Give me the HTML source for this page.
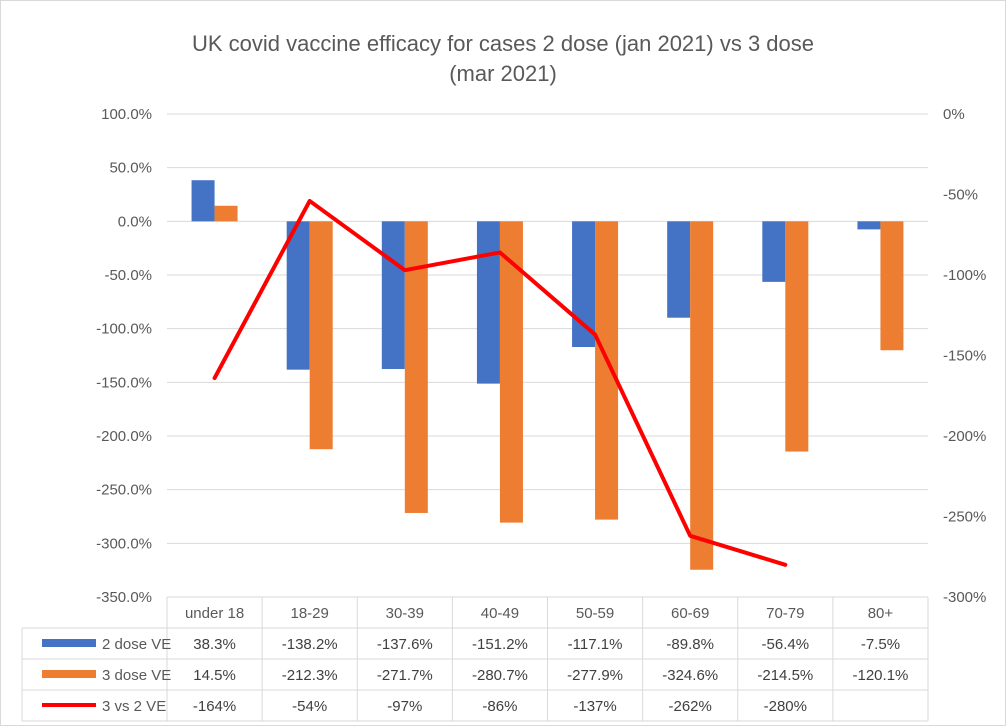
<!DOCTYPE html>
<html><head><meta charset="utf-8"><style>
body{margin:0;background:#fff;}
svg{display:block;font-family:"Liberation Sans",Arial,sans-serif;}
</style></head><body>
<svg id="c" width="1006" height="726">
<rect x="0.5" y="0.5" width="1005" height="725" fill="#fff" stroke="#d9d9d9"/>
<text x="503" y="51" text-anchor="middle" font-size="22" fill="#595959">UK covid vaccine efficacy for cases 2 dose (jan 2021) vs 3 dose</text>
<text x="503" y="81" text-anchor="middle" font-size="22" fill="#595959">(mar 2021)</text>
<g id="g"></g>
</svg>
<script>
const categories=["under 18","18-29","30-39","40-49","50-59","60-69","70-79","80+"];
const dose2=[38.3,-138.2,-137.6,-151.2,-117.1,-89.8,-56.4,-7.5];
const dose3=[14.5,-212.3,-271.7,-280.7,-277.9,-324.6,-214.5,-120.1];
const ratio=[-164,-54,-97,-86,-137,-262,-280,null];
const leftTicks=[100,50,0,-50,-100,-150,-200,-250,-300,-350];
const rightTicks=[0,-50,-100,-150,-200,-250,-300];
const ns="http://www.w3.org/2000/svg";
const g=document.getElementById("g");
const X0=167,X1=928,YT=114,YB=597;
const cw=(X1-X0)/categories.length;
const yL=v=>YT+(100-v)/450*(YB-YT);
const yR=v=>YT+(0-v)/300*(YB-YT);
const cx=i=>X0+cw*(i+0.5);
function el(t,a,txt){const e=document.createElementNS(ns,t);for(const k in a)e.setAttribute(k,a[k]);if(txt!=null)e.textContent=txt;g.appendChild(e);return e;}
leftTicks.forEach(v=>{
 const l=el("line",{x1:X0,x2:X1,y1:yL(v),y2:yL(v),stroke:"#d9d9d9"});
 
 
 const t=el("text",{x:152,y:yL(v)+5,"text-anchor":"end","font-size":15,fill:"#595959"},v.toFixed(1)+"%");
 
 
});
rightTicks.forEach(v=>{
 const t=el("text",{x:943,y:yR(v)+5,"font-size":15,fill:"#595959"},v+"%");
 
 
});
const bw=23;
categories.forEach((c,i)=>{
 const y0=yL(0);
 let y=yL(dose2[i]);
 const b=el("rect",{x:cx(i)-bw,y:Math.min(y,y0),width:bw,height:Math.abs(y-y0),fill:"#4472c4"});
 
 
 y=yL(dose3[i]);
 const b2=el("rect",{x:cx(i),y:Math.min(y,y0),width:bw,height:Math.abs(y-y0),fill:"#ed7d31"});
 
 
});
let pts=[];ratio.forEach((v,i)=>{if(v!=null)pts.push(cx(i)+","+yR(v));});
const pl=el("polyline",{points:pts.join(" "),fill:"none",stroke:"#ff0000","stroke-width":4,"stroke-linejoin":"round","stroke-linecap":"round"});


// table
const RH=[597,628,659,690,721];
const tc="#d9d9d9";
el("line",{x1:X0,x2:X1,y1:RH[0],y2:RH[0],stroke:tc});
for(let r=1;r<5;r++)el("line",{x1:22,x2:X1,y1:RH[r],y2:RH[r],stroke:tc});
for(let i=0;i<=categories.length;i++)el("line",{x1:X0+cw*i,x2:X0+cw*i,y1:RH[0],y2:RH[4],stroke:tc});
el("line",{x1:22,x2:22,y1:RH[1],y2:RH[4],stroke:tc});
categories.forEach((c,i)=>{
 const t=el("text",{x:cx(i),y:RH[0]+21,"text-anchor":"middle","font-size":15,fill:"#595959"},c);
 
 
});
const rows=[["2 dose VE",dose2,v=>v.toFixed(1)+"%"],["3 dose VE",dose3,v=>v.toFixed(1)+"%"],["3 vs 2 VE",ratio,v=>v+"%"]];
rows.forEach((r,k)=>{
 const yy=RH[k+1]+21;
 if(k<2){const s=el("rect",{x:42,y:yy-10,width:54,height:8,fill:k?"#ed7d31":"#4472c4"});}
 else{const s=el("line",{x1:42,x2:96,y1:yy-6,y2:yy-6,stroke:"#ff0000","stroke-width":4});}
 const lt=el("text",{x:102,y:yy,"font-size":15,fill:"#595959"},r[0]);
 
 
 r[1].forEach((v,i)=>{if(v==null)return;
  const t=el("text",{x:cx(i),y:yy,"text-anchor":"middle","font-size":15,fill:"#404040"},r[2](v));
  
  
 });
});
</script>
</body></html>
